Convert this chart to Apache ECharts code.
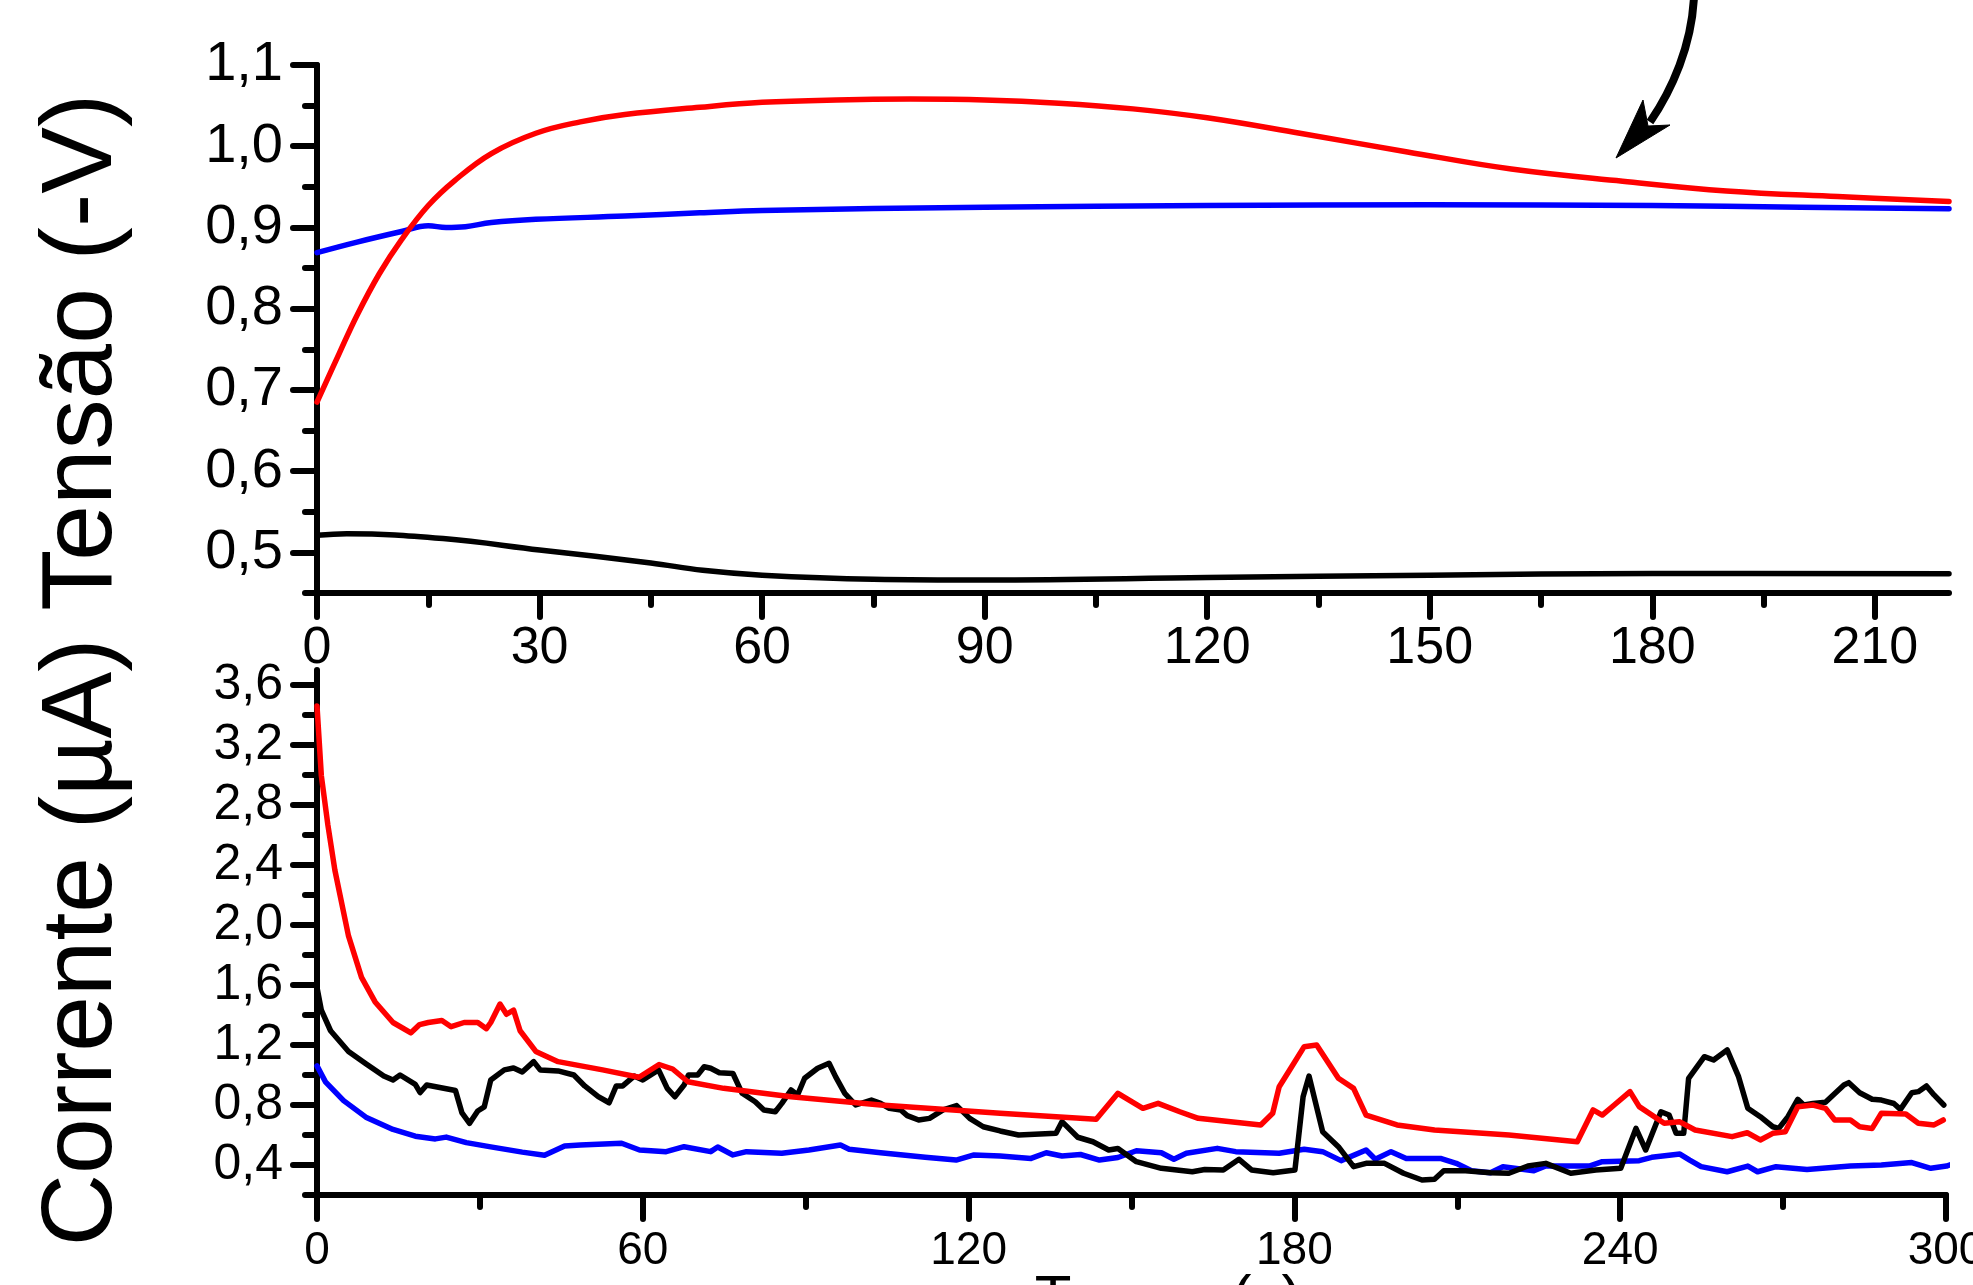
<!DOCTYPE html>
<html>
<head>
<meta charset="utf-8">
<script src="https://cdn.jsdelivr.net/npm/echarts@6/dist/echarts.min.js"></script>
<style>
html,body{margin:0;padding:0;background:#fff;}
#chart{width:1973px;height:1285px;}
</style>
</head>
<body>
<div id="chart"></div>
<script>
// ---------- Top panel: Tensão (-V) vs time ----------
const topRedT = [0, 3, 5.4, 8.4, 11.4, 15, 18.6, 23.5, 29.5, 35.5, 41.5, 51.6, 60, 70, 80, 90, 100, 110, 120, 132.5, 147, 161, 176, 190, 205, 220];
const topRedV = [0.685, 0.745, 0.792, 0.843, 0.885, 0.927, 0.958, 0.991, 1.016, 1.030, 1.039, 1.048, 1.054, 1.057, 1.058, 1.057, 1.053, 1.046, 1.035, 1.016, 0.993, 0.972, 0.957, 0.945, 0.938, 0.932];
const topBlueT = [0, 5.4, 11.4, 15, 17.4, 20, 23.5, 29.5, 41.5, 51.6, 60, 90, 120, 150, 180, 200, 220];
const topBlueV = [0.869, 0.882, 0.895, 0.902, 0.900, 0.901, 0.906, 0.910, 0.914, 0.918, 0.921, 0.925, 0.927, 0.928, 0.927, 0.925, 0.923];
const topBlackT = [0, 4, 17, 30, 45, 52, 60, 75, 90, 120, 150, 180, 220];
const topBlackV = [0.521, 0.523, 0.517, 0.503, 0.487, 0.478, 0.472, 0.467, 0.466, 0.469, 0.472, 0.474, 0.4737];

// ---------- Bottom panel: Corrente (µA) vs time ----------
const botRedT = [0, 0.8, 2.0, 3.3, 5.8, 8.2, 10.7, 14.0, 17.3, 18.9, 20.5, 23.0, 24.7, 27.1, 29.6, 31.2, 32.0, 33.7, 34.9, 36.2, 37.4, 40.3, 44.4, 52.6, 59.3, 63.0, 65.5, 68.3, 74.9, 87.3, 103.8, 125.8, 143.5, 147.5, 152.1, 154.9, 158.9, 162.3, 173.8, 176, 177.2, 179.5, 181.8, 184.1, 188.1, 190.9, 193.2, 198.9, 205.8, 219.5, 232.1, 235, 236.7, 238.9, 241.8, 243.5, 248.1, 250.9, 253.8, 260.6, 263.4, 265.8, 268.1, 270.4, 272.7, 275.5, 277.8, 279.5, 282.4, 284.1, 286.4, 288.1, 292.6, 294.9, 297.8, 299.5];
const botRedV = [3.46, 2.995, 2.667, 2.364, 1.927, 1.651, 1.487, 1.350, 1.281, 1.336, 1.35, 1.363, 1.322, 1.35, 1.35, 1.309, 1.35, 1.473, 1.405, 1.433, 1.295, 1.157, 1.089, 1.034, 0.985, 1.07, 1.04, 0.955, 0.911, 0.855, 0.8, 0.745, 0.705, 0.878, 0.778, 0.811, 0.755, 0.711, 0.667, 0.745, 0.922, 1.055, 1.189, 1.2, 0.978, 0.911, 0.733, 0.667, 0.633, 0.6, 0.555, 0.767, 0.733, 0.8, 0.889, 0.789, 0.678, 0.689, 0.633, 0.589, 0.615, 0.567, 0.611, 0.622, 0.789, 0.8, 0.778, 0.7, 0.7, 0.655, 0.644, 0.745, 0.74, 0.678, 0.667, 0.7];
const botBlackT = [0, 0.8, 2.5, 5.8, 9.0, 12.3, 14.0, 15.3, 18.1, 19.0, 20.2, 25.5, 26.7, 28.1, 29.6, 30.8, 32.0, 34.5, 36.2, 37.8, 39.9, 41.1, 44.4, 47.3, 49.3, 51.8, 53.8, 55.1, 56.3, 58.4, 60.0, 62.9, 64.5, 65.9, 67.6, 68.4, 70.1, 71.3, 72.5, 74.1, 76.6, 78.3, 80.7, 82.3, 84.4, 85.6, 87.3, 88.5, 89.8, 92.2, 94.3, 95.5, 97.2, 99.2, 102.1, 103.8, 105.4, 107.5, 108.7, 110.8, 112.8, 115.3, 117.8, 120.2, 122.7, 125.8, 129.2, 136.1, 137.2, 140.1, 142.9, 145.8, 147.5, 150.9, 155.5, 161.2, 163.5, 166.9, 169.8, 172.1, 176.1, 180.1, 181.6, 182.7, 185.2, 188.1, 190.9, 193.2, 196.6, 200.1, 203.5, 205.8, 207.5, 211.5, 216.1, 219.5, 223, 226.3, 230.9, 235.5, 240.1, 242.9, 244.7, 247.5, 249.0, 250.3, 251.7, 252.6, 255.5, 257.2, 259.7, 261.8, 263.5, 265.8, 268.1, 269.2, 270.9, 272.7, 273.8, 275.5, 277.8, 281.2, 282.1, 284.1, 286.4, 288.1, 290.4, 291.6, 293.7, 294.9, 296.4, 297.8, 299.6];
const botBlackV = [1.583, 1.432, 1.295, 1.157, 1.075, 0.993, 0.967, 1.0, 0.938, 0.883, 0.933, 0.897, 0.747, 0.678, 0.76, 0.787, 0.967, 1.034, 1.047, 1.02, 1.089, 1.034, 1.027, 1.0, 0.927, 0.856, 0.815, 0.927, 0.927, 0.993, 0.967, 1.034, 0.911, 0.855, 0.933, 1.0, 1.0, 1.055, 1.045, 1.015, 1.01, 0.878, 0.822, 0.767, 0.755, 0.811, 0.9, 0.867, 0.978, 1.045, 1.078, 0.989, 0.878, 0.8, 0.833, 0.811, 0.778, 0.767, 0.729, 0.7, 0.711, 0.767, 0.796, 0.711, 0.655, 0.627, 0.6, 0.611, 0.689, 0.585, 0.555, 0.5, 0.51, 0.422, 0.378, 0.355, 0.37, 0.367, 0.438, 0.367, 0.349, 0.367, 0.855, 0.993, 0.622, 0.522, 0.389, 0.411, 0.411, 0.345, 0.3, 0.305, 0.362, 0.362, 0.349, 0.345, 0.393, 0.411, 0.345, 0.367, 0.378, 0.644, 0.5, 0.755, 0.733, 0.611, 0.611, 0.978, 1.122, 1.1, 1.167, 0.989, 0.778, 0.722, 0.655, 0.644, 0.722, 0.838, 0.8, 0.81, 0.818, 0.933, 0.949, 0.882, 0.838, 0.833, 0.81, 0.771, 0.882, 0.889, 0.927, 0.867, 0.8];
const botBlueT = [0, 1.6, 4.9, 9.0, 14.0, 18.1, 21.8, 23.8, 27.5, 32.0, 37.8, 41.9, 45.6, 48.5, 56.1, 59.4, 64.3, 67.6, 72.5, 73.8, 76.6, 79.1, 85.6, 90.6, 96.4, 98.0, 103.8, 112.0, 117.7, 121, 125.8, 131.5, 134.3, 137.2, 140.6, 144.1, 147.5, 150.9, 155.5, 157.8, 160.1, 165.8, 169.2, 177.2, 181.8, 185.2, 188.6, 193.2, 194.9, 197.8, 200.6, 206.9, 209.8, 212.6, 216.1, 218.4, 224.1, 226.3, 234.3, 236.7, 243.5, 245.8, 251, 252.8, 254.9, 259.7, 263.5, 265.3, 268.7, 274.4, 282.4, 288.1, 293.7, 297.2, 300.1, 302.4];
const botBlueV = [1.061, 0.952, 0.829, 0.719, 0.637, 0.592, 0.574, 0.586, 0.549, 0.521, 0.486, 0.465, 0.527, 0.533, 0.545, 0.5, 0.489, 0.522, 0.489, 0.52, 0.467, 0.489, 0.478, 0.5, 0.533, 0.505, 0.482, 0.451, 0.433, 0.467, 0.46, 0.444, 0.482, 0.46, 0.47, 0.433, 0.45, 0.495, 0.482, 0.438, 0.478, 0.511, 0.489, 0.478, 0.505, 0.489, 0.429, 0.5, 0.438, 0.489, 0.444, 0.444, 0.411, 0.362, 0.349, 0.389, 0.362, 0.393, 0.393, 0.422, 0.429, 0.451, 0.473, 0.433, 0.389, 0.355, 0.393, 0.355, 0.389, 0.37, 0.393, 0.4, 0.416, 0.378, 0.393, 0.42];

// ---------- Tick values / labels ----------
const topXMajor = [0, 30, 60, 90, 120, 150, 180, 210];
const topXMinor = [15, 45, 75, 105, 135, 165, 195];
const topYMajor = [0.5, 0.6, 0.7, 0.8, 0.9, 1.0, 1.1];
const topYMinor = [0.45, 0.55, 0.65, 0.75, 0.85, 0.95, 1.05];
const botXMajor = [0, 60, 120, 180, 240, 300];
const botXMinor = [30, 90, 150, 210, 270];
const botYMajor = [0.4, 0.8, 1.2, 1.6, 2.0, 2.4, 2.8, 3.2, 3.6];
const botYMinor = [0.2, 0.6, 1.0, 1.4, 1.8, 2.2, 2.6, 3.0, 3.4];

const yTitle = 'Corrente (µA) Tensão (-V)';
const xTitle = 'Tempo (s)';

const zip = (t, v) => t.map((x, i) => [x, v[i]]);
const FONT = "'Liberation Sans', Arial, sans-serif";
const decFmt = v => Number(v).toFixed(1).replace('.', ',');
const intFmt = v => String(Math.round(v));

function majorAxis(grid, min, max, ticks, fontSize, margin, formatter) {
  return {
    type: 'value', gridIndex: grid, min: min, max: max,
    axisLine: { show: true, onZero: false, lineStyle: { color: '#000', width: 6, cap: 'round' } },
    axisTick: { show: true, inside: false, length: 24, customValues: ticks, lineStyle: { color: '#000', width: 6, cap: 'round' } },
    axisLabel: { show: true, customValues: ticks, formatter: formatter, color: '#000', fontFamily: FONT, fontSize: fontSize, margin: margin },
    splitLine: { show: false }
  };
}
function minorAxis(grid, min, max, ticks) {
  return {
    type: 'value', gridIndex: grid, min: min, max: max,
    axisLine: { show: false, onZero: false },
    axisTick: { show: true, inside: false, length: 12, customValues: ticks, lineStyle: { color: '#000', width: 6, cap: 'round' } },
    axisLabel: { show: false },
    splitLine: { show: false }
  };
}

const xAxes = [
  majorAxis(0, 0, 220, topXMajor, 52, 30, intFmt),
  minorAxis(0, 0, 220, topXMinor),
  majorAxis(1, 0, 300, botXMajor, 46, 33, intFmt),
  minorAxis(1, 0, 300, botXMinor)
];
xAxes.forEach(a => { a.position = 'bottom'; });

const yAxes = [
  majorAxis(0, 0.45, 1.1, topYMajor, 56, 34, decFmt),
  minorAxis(0, 0.45, 1.1, topYMinor),
  majorAxis(1, 0.2, 3.7, botYMajor, 50, 34, decFmt),
  minorAxis(1, 0.2, 3.7, botYMinor)
];
yAxes.forEach(a => { a.position = 'left'; });

function line(name, data, color, xi, yi, smooth, clip) {
  return {
    name: name, type: 'line', data: data, xAxisIndex: xi, yAxisIndex: yi,
    showSymbol: false, symbol: 'none', smooth: smooth, clip: clip !== false,
    lineStyle: { color: color, width: 5.5, join: 'round', cap: 'round' },
    itemStyle: { color: color }, z: 3
  };
}

const chart = echarts.init(document.getElementById('chart'), null, { renderer: 'canvas' });
chart.setOption({
  backgroundColor: '#ffffff',
  animation: false,
  textStyle: { fontFamily: FONT },
  grid: [
    { left: 317, top: 65, width: 1632, height: 528, outerBoundsMode: 'none', containLabel: false },
    { left: 317, top: 670, width: 1629, height: 525, outerBoundsMode: 'none', containLabel: false }
  ],
  xAxis: xAxes,
  yAxis: yAxes,
  series: [
    line('top-black', zip(topBlackT, topBlackV), '#000000', 0, 0, 0.4),
    line('top-blue', zip(topBlueT, topBlueV), '#0000ff', 0, 0, 0.4),
    line('top-red', zip(topRedT, topRedV), '#ff0000', 0, 0, 0.4),
    line('bot-blue', zip(botBlueT, botBlueV), '#0000ff', 2, 2, false, false),
    line('bot-black', zip(botBlackT, botBlackV), '#000000', 2, 2, false),
    line('bot-red', zip(botRedT, botRedV), '#ff0000', 2, 2, false)
  ],
  graphic: [
    { type: 'text', x: 83, y: 670, rotation: Math.PI / 2,
      style: { text: yTitle, fontFamily: FONT, fontSize: 100, fill: '#000', align: 'center', verticalAlign: 'middle' } },
    { type: 'text', x: 1168, y: 1300,
      style: { text: xTitle, fontFamily: FONT, fontSize: 60, fill: '#000', align: 'center', verticalAlign: 'middle' } },
    { type: 'bezierCurve',
      shape: { x1: 1694, y1: -4, cpx1: 1692, cpy1: 45, cpx2: 1672, cpy2: 90, x2: 1650, y2: 122 },
      style: { stroke: '#000', lineWidth: 8, fill: null } },
    { type: 'polygon',
      shape: { points: [[1616, 158], [1643, 100], [1648, 126], [1670, 125]] },
      style: { fill: '#000', stroke: '#000', lineWidth: 1 } }
  ]
});
</script>
</body>
</html>
